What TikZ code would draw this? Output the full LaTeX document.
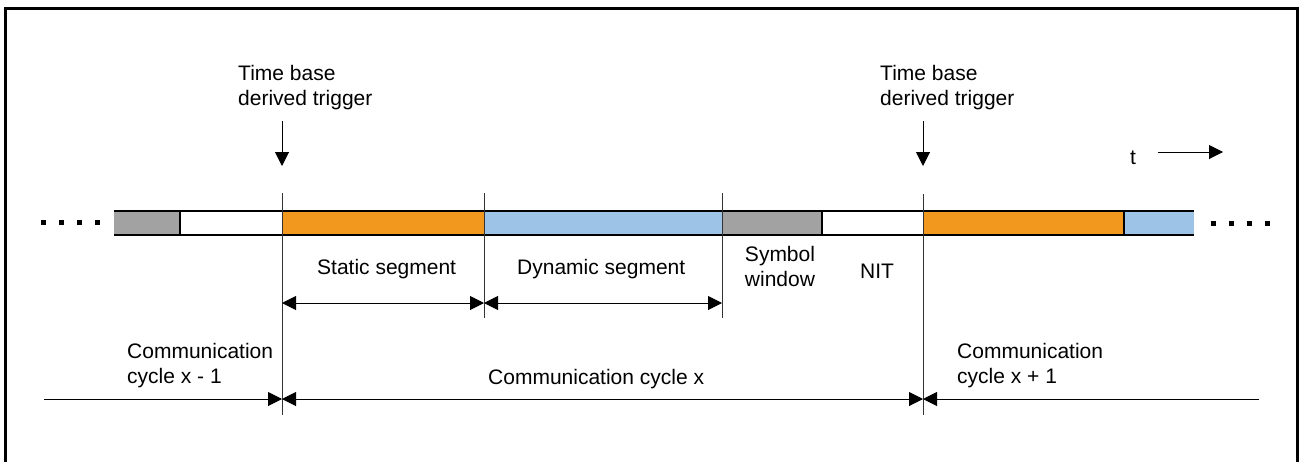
\documentclass[tikz,border=0pt]{standalone}
\usepackage{fontspec}
\setmainfont{Liberation Sans}
\usetikzlibrary{arrows.meta}
\definecolor{segorange}{HTML}{F2981E}
\definecolor{segblue}{HTML}{9DC3E6}
\definecolor{seggray}{HTML}{A2A2A2}
\definecolor{vline}{HTML}{333333}
\tikzset{
  lbl/.style={inner sep=0pt, anchor=base west, align=left},
  tip/.style={-{Triangle[length=14pt,width=14pt]}, line width=1pt},
  dtip/.style={{Triangle[length=14pt,width=14pt]}-{Triangle[length=14pt,width=14pt]}, line width=1pt},
  marker/.style={vline, line width=1pt},
  dotsq/.style={fill=black, minimum size=5pt, inner sep=0pt, draw=none},
}
\begin{document}
\begin{tikzpicture}[x=1pt,y=-1pt, font=\fontsize{21}{25}\selectfont]
\useasboundingbox (0,0) rectangle (1301,461);
% frame
\draw[line width=3pt] (5,480) -- (5,8) -- (1297,8) -- (1297,480);
% segments
\fill[seggray] (114,211) rectangle (180,235);
\fill[white] (180,211) rectangle (282,235);
\fill[segorange] (282,211) rectangle (484,235);
\fill[segblue] (484,211) rectangle (722,235);
\fill[seggray] (722,211) rectangle (822,235);
\fill[white] (822,211) rectangle (923,235);
\fill[segorange] (923,211) rectangle (1124,235);
\fill[segblue] (1124,211) rectangle (1194,235);
\draw[line width=1.5pt] (114,211) -- (1194,211) (114,235) -- (1194,235);
\draw[line width=2pt] (180,211) -- (180,235) (822,211) -- (822,235) (1124,211) -- (1124,235);
% coordinates
\coordinate (m1t) at (282,193); \coordinate (m1b) at (282,415);
\coordinate (m2t) at (484,193); \coordinate (m2b) at (484,318);
\coordinate (m3t) at (722,193); \coordinate (m3b) at (722,318);
\coordinate (m4t) at (923,194); \coordinate (m4b) at (923,415);
\draw[marker] (m1t) -- (m1b);
\draw[marker] (m2t) -- (m2b);
\draw[marker] (m3t) -- (m3b);
\draw[marker] (m4t) -- (m4b);
% trigger arrows
\coordinate (a1s) at (282,121); \coordinate (a1e) at (282,166);
\coordinate (a2s) at (923,121); \coordinate (a2e) at (923,166);
\draw[tip] (a1s) -- (a1e);
\draw[tip] (a2s) -- (a2e);
% dots
\foreach \i/\x in {1/43,2/61,3/79,4/97} \node[dotsq] (dl\i) at (\x,222) {};
\foreach \i/\x in {1/1213,2/1231,3/1249,4/1267} \node[dotsq] (dr\i) at (\x,223) {};
% segment arrows
\coordinate (s1) at (282,303); \coordinate (s2) at (484,303); \coordinate (s3) at (722,303);
\draw[dtip] (s1) -- (s2);
\draw[dtip] (s2) -- (s3);
% cycle arrows
\coordinate (c0) at (44,399); \coordinate (c1) at (282,399);
\coordinate (c2) at (923,399); \coordinate (c3) at (1259,399);
\draw[tip] (c0) -- (c1);
\draw[dtip] (c1) -- (c2);
\draw[tip] (c3) -- (c2);
% t arrow
\coordinate (ts) at (1158,152); \coordinate (te) at (1223,152);
\draw[tip] (ts) -- (te);
% labels (base anchor = last line baseline)
\node[lbl] (trig1) at (238,105) {Time base\\derived trigger};
\node[lbl] (trig2) at (880,105) {Time base\\derived trigger};
\node[lbl] (tlab) at (1130,164) {t};
\node[lbl] (stat) at (317,274) {Static segment};
\node[lbl] (dyn) at (517,274) {Dynamic segment};
\node[inner sep=0pt, anchor=base, align=center] (sym) at (780,286) {Symbol\\window};
\node[lbl] (nit) at (860,278) {NIT};
\node[lbl] (cxm) at (127,383) {Communication\\cycle x - 1};
\node[lbl] (cx) at (488,384) {Communication cycle x};
\node[lbl] (cxp) at (957,383) {Communication\\cycle x + 1};
\end{tikzpicture}
\end{document}
